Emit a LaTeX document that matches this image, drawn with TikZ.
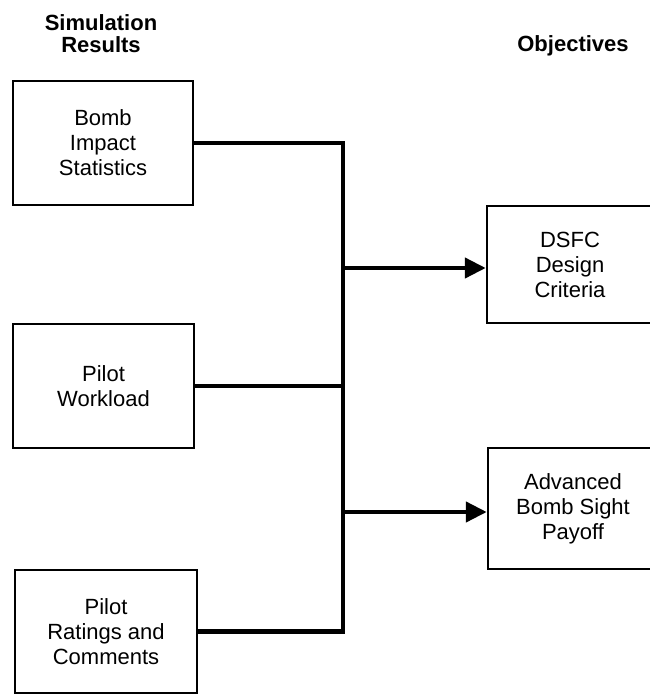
\documentclass[tikz,border=0pt]{standalone}
\usepackage{fontspec}
\setmainfont{Liberation Sans}
\usetikzlibrary{arrows.meta}

\begin{document}
\begin{tikzpicture}[x=1pt, y=-1pt,
  box/.style={draw, line width=2.5pt, align=center, inner sep=0pt,
    font=\fontsize{22}{25}\selectfont},
  head/.style={align=center, inner sep=0pt, font=\fontsize{22}{22}\selectfont\bfseries}]

\useasboundingbox (0,0) rectangle (649,695);

\node[head] (simres) at (101,34) {Simulation\\Results};
\node[head, anchor=base] (obj) at (573,52) {Objectives};

\node[box, minimum width=180, minimum height=124] (bis) at (103,143) {Bomb\\Impact\\Statistics};
\node[box, minimum width=181, minimum height=124] (pw) at (103.5,386) {Pilot\\Workload};
\node[box, minimum width=182, minimum height=123] (prc) at (106,631.5) {Pilot\\Ratings and\\Comments};
\node[box, minimum width=166, minimum height=117] (dsfc) at (570,264.5) {DSFC\\Design\\Criteria};
\node[box, minimum width=170, minimum height=121] (abs) at (573,508.5) {Advanced\\Bomb Sight\\Payoff};

\coordinate (jb) at (343,631.5);

\begin{scope}[line width=4.5pt]
\draw (bis.east) -| (jb) -- (prc.east); %bis-prc
\draw (pw.east) -- (pw.east -| jb); %pw
\end{scope}

\begin{scope}[line width=4.5pt, -{Triangle[length=21pt, width=20pt]}]
\draw ([yshift=-3.5]dsfc.west -| jb) -- ([yshift=-3.5]dsfc.west); %jb-dsfc
\draw ([yshift=-3.5]abs.west -| jb) -- ([yshift=-3.5]abs.west); %jb-abs
\end{scope}

\end{tikzpicture}
\end{document}
